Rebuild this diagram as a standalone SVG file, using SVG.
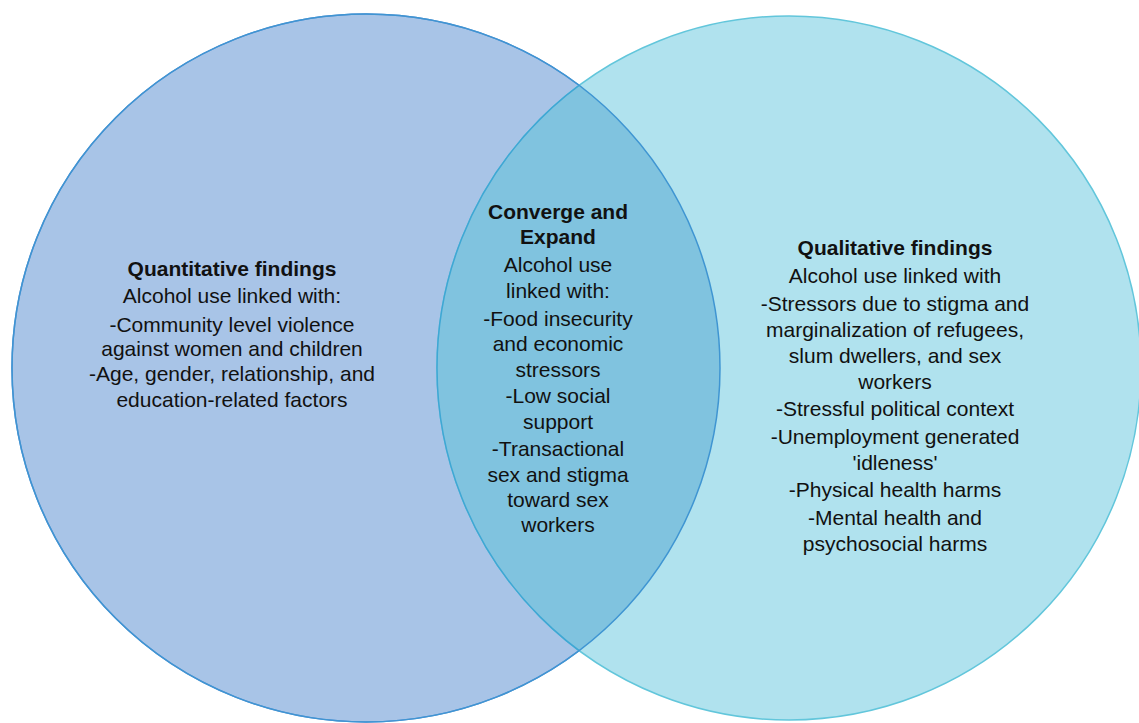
<svg xmlns="http://www.w3.org/2000/svg" width="1139" height="723" viewBox="0 0 1139 723">
  <style>
    text { font-family: "Liberation Sans", Arial, sans-serif; font-size: 21px; fill: #111; text-anchor: middle; }
    .title { font-weight: bold; }
  </style>
  <defs>
    <clipPath id="clipLeft">
      <circle cx="366" cy="368" r="354"/>
    </clipPath>
  </defs>
  <rect width="1139" height="723" fill="#ffffff"/>

  <!-- Quantitative set -->
  <g id="quantitative">
    <circle cx="366" cy="368" r="354" fill="#a8c4e7" stroke="#5b8fd6" stroke-width="1.5"/>
  </g>

  <!-- Qualitative set -->
  <g id="qualitative">
    <circle cx="789" cy="368" r="352" fill="#b0e2ee" stroke="#62c6db" stroke-width="1.5"/>
  </g>

  <!-- Overlap lens -->
  <g id="overlap">
    <circle cx="789" cy="368" r="352" fill="#80c3df" stroke="#3fa7d4" stroke-width="1.5" clip-path="url(#clipLeft)"/>
    <circle cx="366" cy="368" r="354" fill="none" stroke="#3f95d2" stroke-width="1.5"/>
  </g>

  <!-- Labels -->
  <g id="quantitative-label">
    <text class="title" x="232" y="276">Quantitative findings</text>
    <text x="232" y="303">Alcohol use linked with:</text>
    <text x="232" y="332">-Community level violence</text>
    <text x="232" y="356">against women and children</text>
    <text x="232" y="381">-Age, gender, relationship, and</text>
    <text x="232" y="407">education-related factors</text>
  </g>

  <g id="overlap-label">
    <text class="title" x="558" y="219">Converge and</text>
    <text class="title" x="558" y="244">Expand</text>
    <text x="558" y="272">Alcohol use</text>
    <text x="558" y="298">linked with:</text>
    <text x="558" y="326">-Food insecurity</text>
    <text x="558" y="351">and economic</text>
    <text x="558" y="377">stressors</text>
    <text x="558" y="403">-Low social</text>
    <text x="558" y="429">support</text>
    <text x="558" y="456">-Transactional</text>
    <text x="558" y="482">sex and stigma</text>
    <text x="558" y="507">toward sex</text>
    <text x="558" y="532">workers</text>
  </g>

  <g id="qualitative-label">
    <text class="title" x="895" y="255">Qualitative findings</text>
    <text x="895" y="283">Alcohol use linked with</text>
    <text x="895" y="311">-Stressors due to stigma and</text>
    <text x="895" y="337">marginalization of refugees,</text>
    <text x="895" y="363">slum dwellers, and sex</text>
    <text x="895" y="389">workers</text>
    <text x="895" y="416">-Stressful political context</text>
    <text x="895" y="444">-Unemployment generated</text>
    <text x="895" y="470">'idleness'</text>
    <text x="895" y="497">-Physical health harms</text>
    <text x="895" y="525">-Mental health and</text>
    <text x="895" y="551">psychosocial harms</text>
  </g>
</svg>
